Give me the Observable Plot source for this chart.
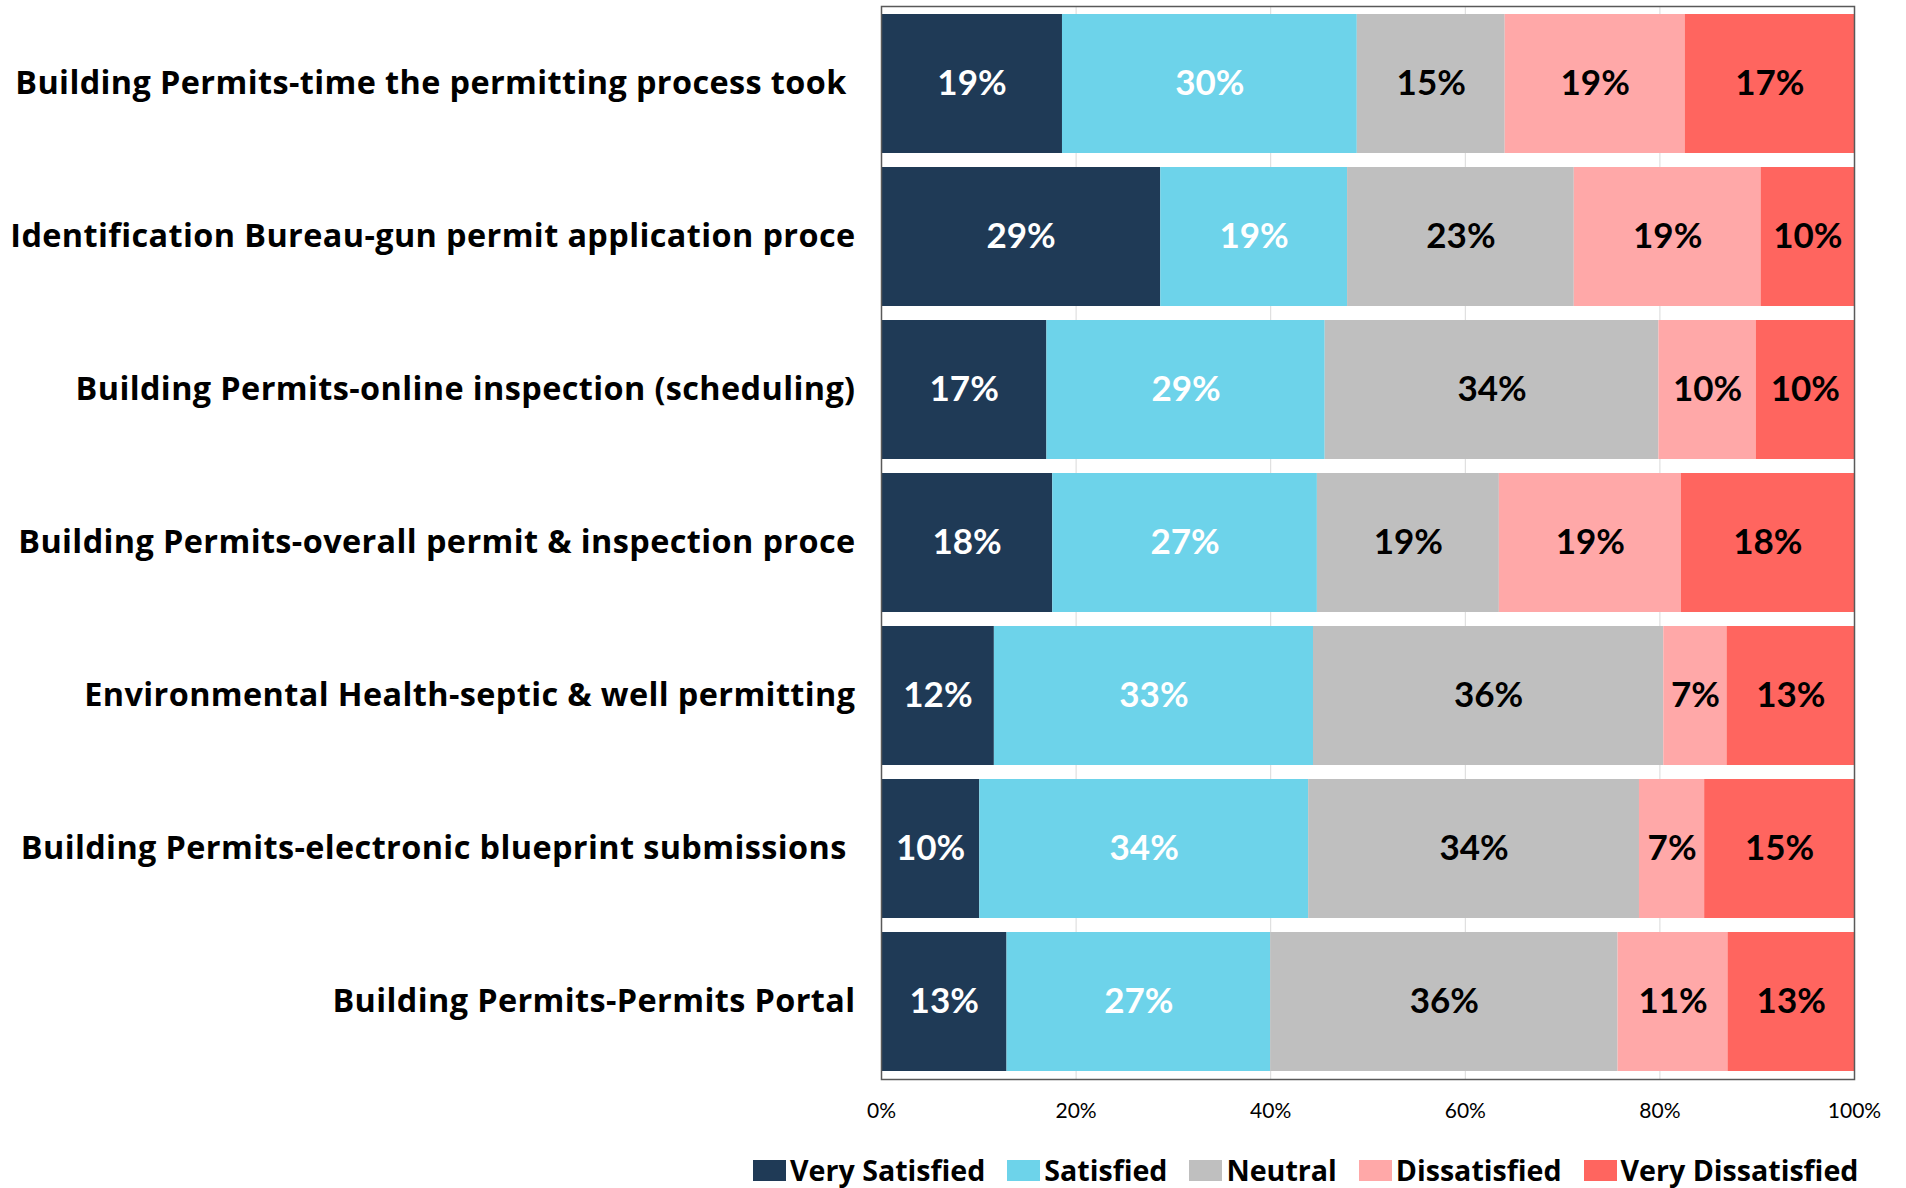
<!DOCTYPE html>
<html><head><meta charset="utf-8">
<script src="https://cdn.jsdelivr.net/npm/d3@7"></script>
<script src="https://cdn.jsdelivr.net/npm/@observablehq/plot@0.6"></script>
<style>
body{margin:0;background:#fff;font-family:Lato,sans-serif;}
#chart{position:absolute;left:0;top:0;}
#legend{position:absolute;left:753px;top:1156px;display:flex;align-items:center;font-family:"Open Sans",sans-serif;font-weight:700;font-size:28.6px;line-height:1;color:#000;white-space:nowrap;}
.item{display:flex;align-items:center;margin-right:22px;}
.sw{width:33px;height:21px;margin-right:4px;}
</style></head><body><div id="chart"></div><div id="legend"></div>
<script>
const categories = [
  "Building Permits-time the permitting process took\u00a0",
  "Identification Bureau-gun permit application proce",
  "Building Permits-online inspection (scheduling)",
  "Building Permits-overall permit & inspection proce",
  "Environmental Health-septic & well permitting",
  "Building Permits-electronic blueprint submissions\u00a0",
  "Building Permits-Permits Portal"
];
const levels = ["Very Satisfied","Satisfied","Neutral","Dissatisfied","Very Dissatisfied"];
const colors = ["#1f3a56","#6dd3ea","#bfbfbf","#ffa8a8","#ff655f"];
const veryS   = [18.6,28.7,17.0,17.6,11.6,10.1,12.9];
const sat     = [30.3,19.2,28.6,27.2,32.8,33.8,27.1];
const neutral = [15.2,23.3,34.3,18.7,36.0,34.0,35.7];
const dis     = [18.5,19.2,10.0,18.7, 6.5, 6.7,11.3];
const veryD   = [17.4, 9.6,10.1,17.8,13.1,15.4,13.0];
const xTicks = [0,20,40,60,80,100];

const series = [veryS, sat, neutral, dis, veryD];
const data = [];
categories.forEach((c,i)=>{
  levels.forEach((l,j)=>{ data.push({cat:c, level:l, li:j, value:series[j][i]}); });
});

const chart = Plot.plot({
  width:1906, height:1136, marginLeft:881, marginRight:52, marginTop:6, marginBottom:57,
  style:{fontFamily:"Lato, sans-serif", background:"#fff", color:"#000"},
  x:{domain:[0,100]},
  y:{domain:categories, paddingInner:0.09, paddingOuter:0.045},
  color:{domain:levels, range:colors},
  marks:[
    Plot.gridX(xTicks, {stroke:"#d9d9d9", strokeOpacity:1}),
    Plot.barX(data, {x:"value", y:"cat", fill:"level"}),
    Plot.text(data, Plot.stackX({x:"value", y:"cat", text:d=>Math.round(d.value)+"%",
      fill:d=> d.li<2 ? "#ffffff" : "#000000", fontSize:35, fontWeight:700})),
    Plot.frame({stroke:"#595959", strokeWidth:1.5}),
    Plot.axisX({ticks:xTicks, tickFormat:d=>d+"%", tickSize:0, tickPadding:24, fontSize:21, label:null}),
    Plot.axisY({tickSize:0, tickPadding:26, fontSize:32.4, fontWeight:700, fontFamily:"Open Sans, sans-serif", label:null})
  ]
});
chart.querySelectorAll('[aria-label="y-axis tick label"] text').forEach(t=>t.style.letterSpacing="0.4px");
document.getElementById("chart").append(chart);

const leg = document.getElementById("legend");
levels.forEach((l,j)=>{
  const it = document.createElement("div"); it.className="item";
  const sw = document.createElement("div"); sw.className="sw"; sw.style.background=colors[j];
  const tx = document.createElement("span"); tx.textContent=l;
  it.append(sw, tx); leg.append(it);
});
</script></body></html>
